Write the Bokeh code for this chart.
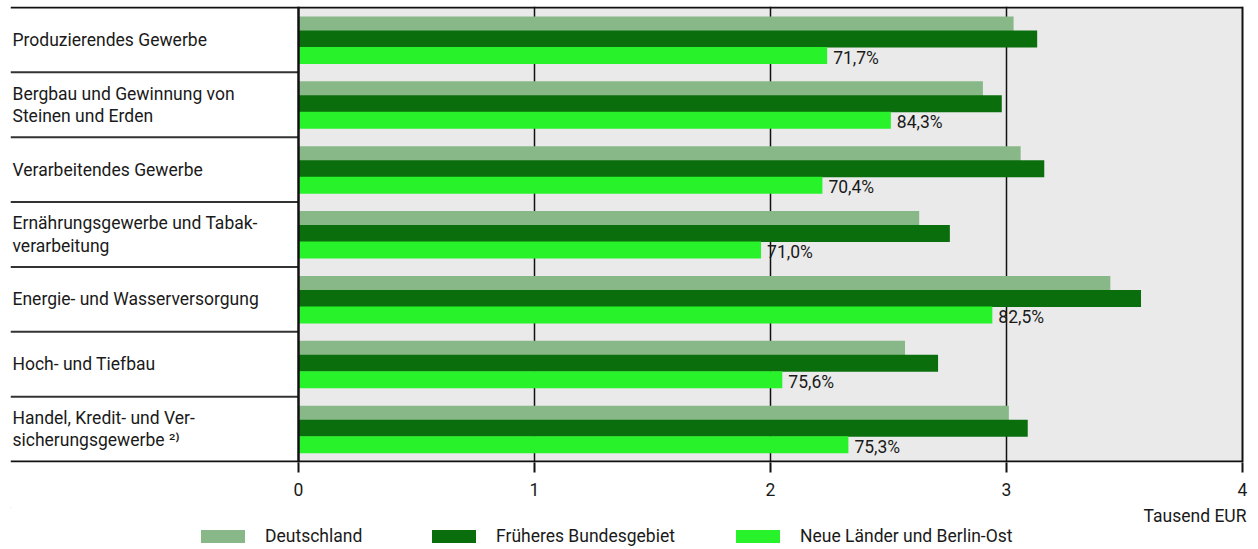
import numpy as np
from bokeh.plotting import figure
from bokeh.layouts import column
from bokeh.models import Range1d, FixedTicker, Legend, LegendItem, Span, BoxAnnotation, ColumnDataSource
from bokeh.core.properties import value
from bokeh.embed import file_html
from bokeh.resources import INLINE

categories = [
    "Produzierendes Gewerbe",
    "Bergbau und Gewinnung von\nSteinen und Erden",
    "Verarbeitendes Gewerbe",
    "Ernährungsgewerbe und Tabak-\nverarbeitung",
    "Energie- und Wasserversorgung",
    "Hoch- und Tiefbau",
    "Handel, Kredit- und Ver-\nsicherungsgewerbe \u00b2\u207e",
]
deutschland = [3.03, 2.90, 3.06, 2.63, 3.44, 2.57, 3.01]
frueheres = [3.13, 2.98, 3.16, 2.76, 3.57, 2.71, 3.09]
neue = [2.24, 2.51, 2.22, 1.96, 2.94, 2.05, 2.33]
pct_labels = ["71,7%", "84,3%", "70,4%", "71,0%", "82,5%", "75,6%", "75,3%"]
tick_values = [0, 1, 2, 3, 4]
series_names = ["Deutschland", "Früheres Bundesgebiet", "Neue Länder und Berlin-Ost"]
colors = ["#88b888", "#0b6e0d", "#27f22a"]
unit_label = "Tausend EUR"

FONT = "Roboto"
FS = "17.5px"
TXT = "#1a1a1a"
LINE = "#111111"

W = 1250
n = len(categories)
px_per_unit = 236.0
zero_px = 298            # page x of value 0
b_left, b_top = 10, 6
x_start = -(zero_px - b_left) / px_per_unit
x_end = (W - zero_px) / px_per_unit
xmax = tick_values[-1]
py = 454 / n             # pixels per category row
pad = 1 / py             # 1px padding above/below the rows
frame_h = 456
H1 = 507

p = figure(width=W, height=H1, output_backend="svg", toolbar_location=None,
           x_range=Range1d(x_start, x_end), y_range=Range1d(-pad, n + pad),
           y_axis_location=None, min_border_left=b_left, min_border_right=0,
           min_border_top=b_top, min_border_bottom=H1 - frame_h - b_top)
p.outline_line_color = None
p.xgrid.visible = False
p.ygrid.visible = False

# background of plot area
p.add_layout(BoxAnnotation(left=0, right=xmax, bottom=0, top=n, fill_color="#eaeaea",
                           fill_alpha=1, line_color=None, level="underlay"))
for t in tick_values[1:-1]:
    p.add_layout(Span(location=t, dimension="height", line_color=LINE,
                      line_width=1.5, level="underlay"))
p.add_layout(Span(location=xmax, dimension="height", line_color=LINE, line_width=2, level="underlay"))

rows = np.arange(n)
top = n - rows
src = ColumnDataSource(dict(
    yd=top - 16.5 / py, yf=top - 31.5 / py, yn=top - 48 / py,
    d=deutschland, f=frueheres, nn=neue, pct=pct_labels,
    cat=categories, ycat=top - 0.5,
))
rd = p.hbar(y="yd", left=0, right="d", height=15 / py, source=src, fill_color=colors[0], line_color=None)
rf = p.hbar(y="yf", left=0, right="f", height=17 / py, source=src, fill_color=colors[1], line_color=None)
rn = p.hbar(y="yn", left=0, right="nn", height=17 / py, source=src, fill_color=colors[2], line_color=None)

# left border of plot area
p.add_layout(Span(location=0, dimension="height", line_color=LINE, line_width=2.5))

# separators in label column, top and bottom rules
sep_y = np.arange(1, n)
p.segment(x0=x_start, x1=0, y0=sep_y, y1=sep_y, line_color="#333333", line_width=2)
p.segment(x0=[x_start, x_start], x1=[xmax, xmax], y0=[0, n], y1=[0, n], line_color=LINE, line_width=2)

p.text(x=x_start + 2 / px_per_unit, y="ycat", text="cat", source=src,
       text_font=value(FONT), text_font_size=FS, text_color=TXT,
       text_baseline="middle", text_align="left", text_line_height=1.12)
p.text(x="nn", y="yn", text="pct", source=src, x_offset=6, y_offset=2,
       text_font=value(FONT), text_font_size=FS, text_color=TXT,
       text_baseline="middle", text_align="left")

ax = p.xaxis[0]
ax.ticker = FixedTicker(ticks=tick_values)
ax.minor_tick_line_color = None
ax.major_tick_in = 0
ax.major_tick_out = 10
ax.major_tick_line_width = 2
ax.major_tick_line_color = LINE
ax.axis_line_color = None
ax.major_label_standoff = 10
ax.major_label_text_font = FONT
ax.major_label_text_font_size = FS
ax.major_label_text_color = TXT

# legend strip: x in page pixels
H2 = 549 - H1
q = figure(width=W, height=H2, output_backend="svg", toolbar_location=None,
           x_range=Range1d(b_left, W), y_range=Range1d(H2, 0),
           x_axis_location=None, y_axis_location=None,
           min_border_left=b_left, min_border_right=0, min_border_top=0, min_border_bottom=0)
q.outline_line_color = None
q.xgrid.visible = False
q.ygrid.visible = False

q.text(x=[W - 4], y=[8], text=[unit_label], text_font=value(FONT), text_font_size=FS,
       text_color=TXT, text_align="right", text_baseline="middle")

legend_x = [201, 432, 736]
for name, c, lx in zip(series_names, colors, legend_x):
    # proxy renderer (placed outside the visible range) that carries the legend swatch
    proxy = q.hbar(y=[-1000], left=[0], right=[1], height=1, fill_color=c, line_color=None)
    lg = Legend(items=[LegendItem(label=name, renderers=[proxy])], location=(lx - b_left - 6, 3),
                orientation="horizontal", glyph_width=55, glyph_height=16, label_standoff=15,
                padding=0, margin=0, border_line_alpha=0, background_fill_alpha=0,
                label_text_font=FONT, label_text_font_size=FS, label_text_color=TXT,
                label_height=16)
    q.add_layout(lg)

layout = column(p, q, spacing=0)
open("out.html", "w").write(file_html(layout, INLINE))
